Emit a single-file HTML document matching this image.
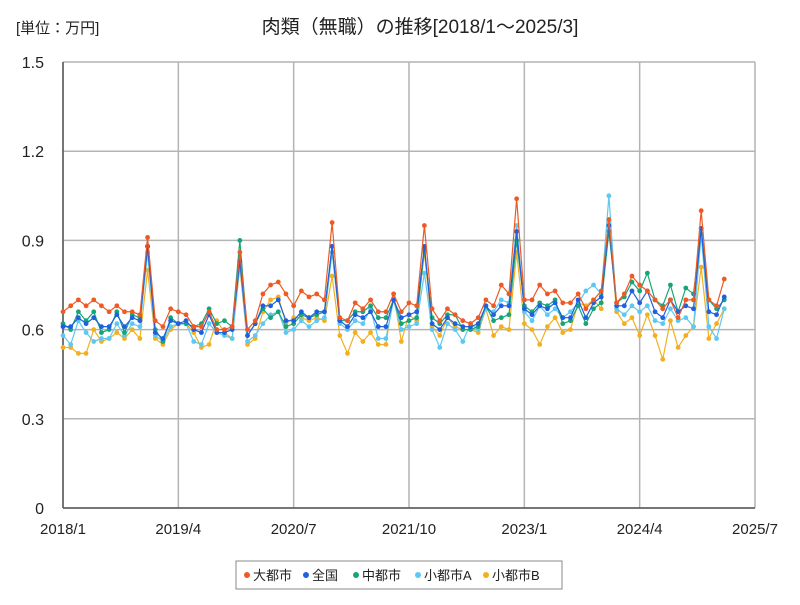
<!DOCTYPE html>
<html><head><meta charset="utf-8"><style>
body{margin:0;background:#fff;}
svg text{font-family:"Liberation Sans","Noto Sans CJK JP",sans-serif;}
</style></head><body>
<svg id="chart" width="800" height="600" xmlns="http://www.w3.org/2000/svg">
<rect width="800" height="600" fill="#fff"/>
<text x="16" y="33" font-size="15" fill="#222">[単位：万円]</text>
<text x="420" y="33" font-size="19" text-anchor="middle" fill="#222">肉類（無職）の推移[2018/1～2025/3]</text>
<g id="grid"></g>
<g id="series"></g>
<g id="legend"></g>
</svg>
<script>
const xTickLabels=["2018/1","2019/4","2020/7","2021/10","2023/1","2024/4","2025/7"];
const yTickLabels=["0","0.3","0.6","0.9","1.2","1.5"];
const seriesNames=["大都市","全国","中都市","小都市A","小都市B"];
const daitoshi=[.66,.68,.70,.68,.70,.68,.66,.68,.66,.66,.65,.91,.63,.61,.67,.66,.65,.61,.61,.66,.60,.60,.61,.86,.60,.63,.72,.75,.76,.72,.68,.73,.71,.72,.70,.96,.64,.63,.69,.67,.70,.66,.66,.72,.66,.69,.68,.95,.67,.63,.67,.65,.63,.62,.64,.70,.68,.75,.72,1.04,.70,.70,.75,.72,.73,.69,.69,.72,.67,.70,.73,.97,.69,.72,.78,.75,.73,.70,.67,.70,.64,.70,.70,1.00,.70,.68,.77];
const zenkoku=[.61,.61,.64,.62,.64,.61,.61,.65,.61,.64,.63,.88,.59,.57,.63,.62,.63,.60,.59,.65,.59,.59,.60,.83,.58,.62,.68,.68,.70,.63,.63,.66,.64,.66,.66,.88,.63,.61,.65,.64,.66,.61,.61,.70,.64,.65,.66,.88,.62,.60,.64,.62,.61,.61,.62,.68,.65,.68,.68,.93,.67,.65,.68,.67,.69,.64,.64,.70,.64,.69,.71,.95,.68,.68,.73,.69,.73,.66,.64,.70,.66,.68,.67,.94,.66,.65,.71];
const chutoshi=[.62,.60,.66,.63,.66,.59,.60,.66,.59,.65,.64,.88,.60,.56,.64,.62,.62,.61,.62,.67,.62,.63,.61,.90,.58,.62,.67,.64,.66,.61,.62,.65,.64,.65,.66,.88,.63,.63,.66,.66,.68,.64,.64,.70,.62,.63,.64,.87,.64,.62,.65,.65,.60,.60,.61,.68,.63,.64,.65,.90,.68,.66,.69,.68,.70,.62,.63,.68,.62,.67,.69,.93,.69,.71,.76,.73,.79,.70,.68,.75,.66,.74,.72,.94,.70,.67,.70];
const shoA=[.58,.55,.63,.59,.56,.57,.57,.62,.58,.62,.61,.86,.58,.56,.61,.62,.62,.56,.55,.62,.59,.58,.57,.82,.56,.58,.62,.65,.66,.59,.60,.63,.61,.63,.64,.86,.62,.60,.63,.62,.67,.57,.57,.70,.60,.61,.62,.79,.60,.54,.62,.60,.56,.62,.60,.67,.66,.70,.69,.95,.66,.63,.68,.65,.67,.64,.66,.69,.73,.75,.72,1.05,.67,.65,.68,.66,.68,.63,.62,.67,.63,.64,.61,.92,.61,.57,.67];
const shoB=[.54,.54,.52,.52,.60,.56,.57,.59,.57,.60,.57,.80,.57,.55,.60,.62,.62,.59,.54,.55,.63,.59,.57,.81,.55,.57,.66,.70,.71,.62,.64,.64,.63,.64,.63,.78,.58,.52,.59,.56,.59,.55,.55,.72,.56,.65,.63,.86,.61,.58,.64,.61,.60,.60,.59,.67,.58,.61,.60,.86,.62,.60,.55,.61,.64,.59,.60,.69,.68,.70,.67,.96,.66,.62,.64,.58,.65,.58,.50,.63,.54,.58,.61,.81,.57,.62,.67];
const colors=["#ee5a24","#1f5fe0","#17a578","#5ec8f2","#f2b020"];
const allSeries=[daitoshi,zenkoku,chutoshi,shoA,shoB];

const X0=63,X1=755,Y0=508,Y1=62,NM=90,YMAX=1.5;
const xs=i=>X0+(X1-X0)*i/NM;
const ys=v=>Y0-(Y0-Y1)*v/YMAX;
const NS="http://www.w3.org/2000/svg";
function mk(tag,attrs,parent){const e=document.createElementNS(NS,tag);for(const k in attrs)e.setAttribute(k,attrs[k]);parent.appendChild(e);return e;}
const grid=document.getElementById('grid');
yTickLabels.forEach((t,i)=>{
  const v=parseFloat(t),y=ys(v);
  const l=mk('line',{x1:X0,x2:X1,y1:y,y2:y,stroke:'#b4b4b4','stroke-width':1.5},grid);
  
  
  const tx=mk('text',{x:44,y:y+6,'font-size':16,'text-anchor':'end',fill:'#222'},grid);
  tx.textContent=t;
  
  
});
xTickLabels.forEach((t,i)=>{
  const x=xs(i*15);
  const l=mk('line',{x1:x,x2:x,y1:Y1,y2:Y0,stroke:'#b4b4b4','stroke-width':1.5},grid);
  
  
  const tx=mk('text',{x:x,y:534,'font-size':15,'text-anchor':'middle',fill:'#222'},grid);
  tx.textContent=t;
  
  
});
const ax=mk('line',{x1:X0,x2:X0,y1:Y1,y2:Y0,stroke:'#555','stroke-width':1.5},grid);


const ax2=mk('line',{x1:X0,x2:X1,y1:Y0,y2:Y0,stroke:'#555','stroke-width':1.5},grid);



const sg=document.getElementById('series');
for(let s=allSeries.length-1;s>=0;s--){
  const d=allSeries[s],g=mk('g',{},sg);
  
  
  const pts=d.map((v,i)=>xs(i)+','+ys(v)).join(' ');
  const pl=mk('polyline',{points:pts,fill:'none',stroke:colors[s],'stroke-width':1.2},g);
  
  
  d.forEach((v,i)=>{
    const c=mk('circle',{cx:xs(i),cy:ys(v),r:2.4,fill:colors[s]},g);
    
    
  });
}
const lg=document.getElementById('legend');
const lb=mk('rect',{x:236,y:561,width:326,height:28,fill:'#fff',stroke:'#888','stroke-width':1},lg);


const lx=[247,306,356,418,486];
seriesNames.forEach((n,i)=>{
  const g=mk('g',{},lg);
  
  
  mk('circle',{cx:lx[i],cy:575,r:3,fill:colors[i]},g);
  const t=mk('text',{x:lx[i]+6,y:580,'font-size':13,fill:'#222'},g);
  t.textContent=n;
});
</script>
</body></html>
